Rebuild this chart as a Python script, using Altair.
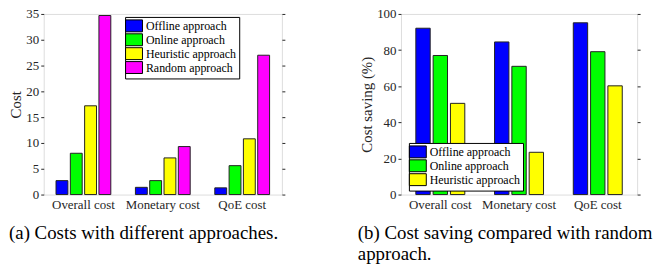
import altair as alt
import pandas as pd

categories = ["Overall cost", "Monetary cost", "QoE cost"]
approaches_a = ["Offline approach", "Online approach", "Heuristic approach", "Random approach"]
approaches_b = ["Offline approach", "Online approach", "Heuristic approach"]
colors_a = ["#0000ff", "#00ff00", "#ffff00", "#ff00ff"]
colors_b = ["#0000ff", "#00ff00", "#ffff00"]

# (a) Costs
offline_cost = [2.7, 1.4, 1.3]
online_cost = [8.0, 2.7, 5.6]
heuristic_cost = [17.2, 7.1, 10.8]
random_cost = [34.7, 9.3, 27.0]

# (b) Cost saving (%)
offline_saving = [92.1, 84.5, 95.1]
online_saving = [77.0, 71.0, 79.1]
heuristic_saving = [50.5, 23.4, 60.2]

cost_ticks = [0, 5, 10, 15, 20, 25, 30, 35]
saving_ticks = [0, 20, 40, 60, 80, 100]

FONT = "'Liberation Serif', 'Times New Roman', Times, serif"
AXC = "#262626"

def long_table(series, names):
    rows = []
    for name, vals in zip(names, series):
        for c, v in zip(categories, vals):
            rows.append({"category": c, "approach": name, "value": v})
    return pd.DataFrame(rows)

df_a = long_table([offline_cost, online_cost, heuristic_cost, random_cost], approaches_a)
df_b = long_table([offline_saving, online_saving, heuristic_saving], approaches_b)

SYMBOL = "M-2.13,-1.5H2.13V1.5H-2.13Z"


def panel(df, names, colors, ydomain, yticks, ytitle, legx, legy, caption, width, cap_dx, field):
    base = alt.Chart(df).transform_calculate(**{field: "datum.approach"})
    bars = base.mark_bar(stroke="#222222", strokeWidth=1).encode(
        x=alt.X("category:N", sort=categories,
                scale=alt.Scale(paddingInner=0, paddingOuter=0),
                axis=alt.Axis(title=None, labelAngle=0, ticks=False, domain=False,
                              labelFont=FONT, labelFontSize=13, labelColor=AXC,
                              labelPadding=4)),
        xOffset=alt.XOffset(f"{field}:N", sort=names,
                            scale=alt.Scale(paddingInner=0.17, paddingOuter=0.86)),
        y=alt.Y("value:Q", scale=alt.Scale(domain=ydomain, nice=False),
                axis=alt.Axis(values=yticks, title=ytitle, grid=False, domain=False,
                              tickSize=3, tickColor=AXC, labelFont=FONT, labelFontSize=13,
                              labelColor=AXC, labelPadding=2, titleFont=FONT,
                              titleFontSize=15, titleFontWeight="normal", titleColor=AXC,
                              titlePadding=2)),
        fill=alt.Fill(f"{field}:N", sort=names,
                      scale=alt.Scale(domain=names, range=colors),
                      legend=alt.Legend(orient="none", legendX=legx, legendY=legy,
                                        title=None, strokeColor="black", fillColor="white",
                                        padding=3, symbolType=SYMBOL, symbolSize=64,
                                        symbolStrokeColor="black", symbolStrokeWidth=1,
                                        labelFont=FONT, labelFontSize=12, labelColor="black",
                                        labelOffset=6, rowPadding=-3.3, labelLimit=0)),
    )
    mirror = base.mark_point(opacity=0).encode(
        y=alt.Y("value:Q", scale=alt.Scale(domain=ydomain, nice=False),
                axis=alt.Axis(orient="right", values=yticks, labels=False, title=None,
                              grid=False, domain=False, tickSize=3, tickColor=AXC)),
    )
    return alt.layer(bars, mirror).resolve_scale(y="independent").properties(
        width=width, height=182,
        title=alt.TitleParams(text=caption, orient="bottom", anchor="start", frame="bounds",
                              font=FONT, fontSize=19, fontWeight="normal", color="black",
                              offset=13, lineHeight=21, dx=cap_dx),
    )


left = panel(df_a, approaches_a, colors_a, [0, 35], cost_ticks, "Cost", 82, 3,
             "(a) Costs with different approaches.", 240, 0, "approach_a")
right = panel(df_b, approaches_b, colors_b, [0, 100], saving_ticks, "Cost saving (%)", 8, 130,
              ["(b) Cost saving compared with random", "approach."], 238, -2, "approach_b")

chart = alt.hconcat(left, right, spacing=72).resolve_scale(
    fill="independent", xOffset="independent"
).resolve_legend(fill="independent").properties(
    padding={"left": 0, "top": -2, "right": 0, "bottom": 0}
).configure_view(stroke=AXC, strokeWidth=1).configure(background="white")

chart.save("out.html", embed_options={"renderer": "svg", "actions": False})
